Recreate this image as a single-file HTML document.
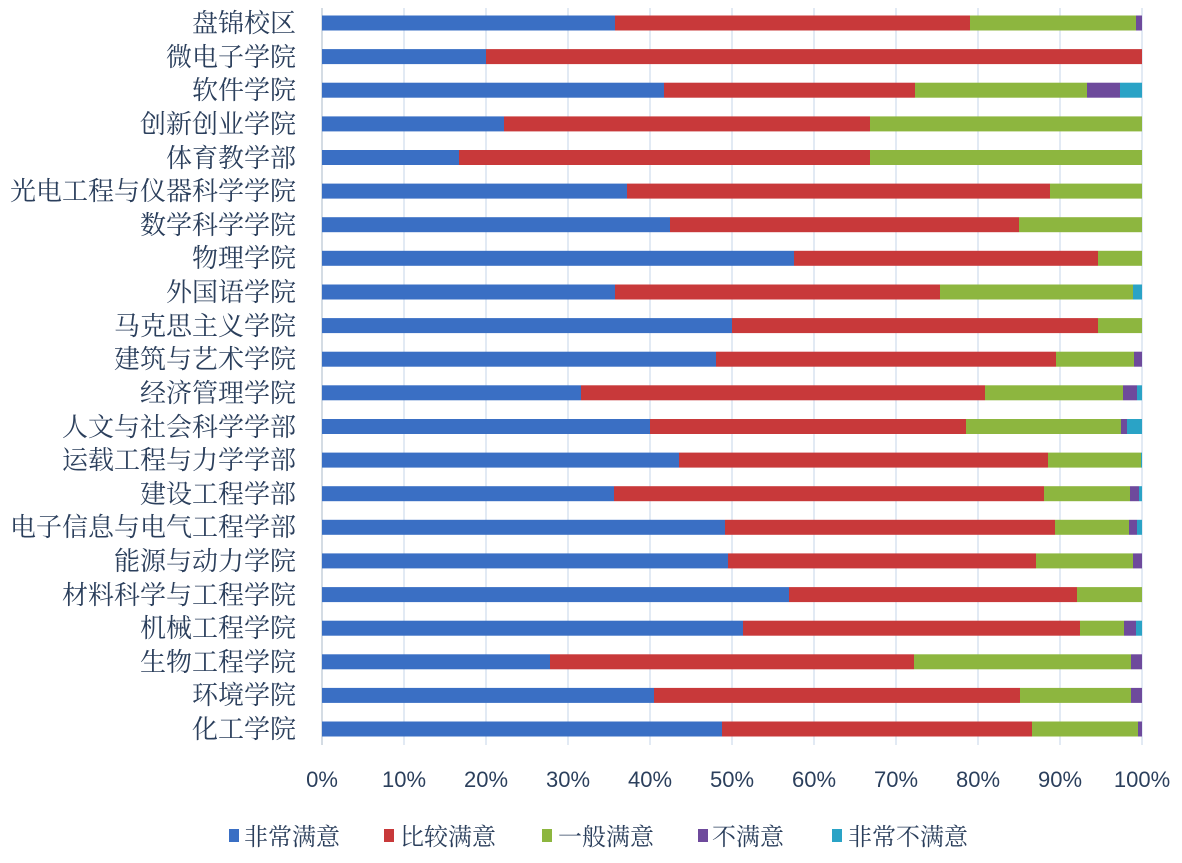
<!DOCTYPE html>
<html><head><meta charset="utf-8"><style>
body{margin:0;background:#fff}
svg text{font-family:"Liberation Serif","Noto Serif CJK SC","Noto Sans CJK SC",serif;fill:#2b3f5c}
</style></head><body>
<svg width="1182" height="858" viewBox="0 0 1182 858" xmlns="http://www.w3.org/2000/svg">
<g stroke="#cfdcec" stroke-width="1.2">
<line x1="404" y1="8" x2="404" y2="745"/><line x1="486" y1="8" x2="486" y2="745"/><line x1="568" y1="8" x2="568" y2="745"/><line x1="650" y1="8" x2="650" y2="745"/><line x1="732" y1="8" x2="732" y2="745"/><line x1="814" y1="8" x2="814" y2="745"/><line x1="896" y1="8" x2="896" y2="745"/><line x1="978" y1="8" x2="978" y2="745"/><line x1="1060" y1="8" x2="1060" y2="745"/><line x1="1142" y1="8" x2="1142" y2="745"/>
</g>
<line x1="322" y1="8" x2="322" y2="745" stroke="#b8c4d2" stroke-width="1.2"/>
<g font-size="26" text-anchor="end">
<text x="296" y="32">盘锦校区</text>
<text x="296" y="66">微电子学院</text>
<text x="296" y="99">软件学院</text>
<text x="296" y="133">创新创业学院</text>
<text x="296" y="167">体育教学部</text>
<text x="296" y="200">光电工程与仪器科学学院</text>
<text x="296" y="234">数学科学学院</text>
<text x="296" y="267">物理学院</text>
<text x="296" y="301">外国语学院</text>
<text x="296" y="335">马克思主义学院</text>
<text x="296" y="368">建筑与艺术学院</text>
<text x="296" y="402">经济管理学院</text>
<text x="296" y="436">人文与社会科学学部</text>
<text x="296" y="469">运载工程与力学学部</text>
<text x="296" y="503">建设工程学部</text>
<text x="296" y="536">电子信息与电气工程学部</text>
<text x="296" y="570">能源与动力学院</text>
<text x="296" y="604">材料科学与工程学院</text>
<text x="296" y="637">机械工程学院</text>
<text x="296" y="671">生物工程学院</text>
<text x="296" y="704">环境学院</text>
<text x="296" y="738">化工学院</text>
</g>
<g>
<g fill="#3a6fc4">
<rect x="322" y="15.5" width="293" height="15"/>
<rect x="322" y="49.1" width="164" height="15"/>
<rect x="322" y="82.7" width="342" height="15"/>
<rect x="322" y="116.4" width="182" height="15"/>
<rect x="322" y="150" width="137" height="15"/>
<rect x="322" y="183.6" width="305" height="15"/>
<rect x="322" y="217.2" width="348" height="15"/>
<rect x="322" y="250.8" width="472" height="15"/>
<rect x="322" y="284.5" width="293" height="15"/>
<rect x="322" y="318.1" width="410" height="15"/>
<rect x="322" y="351.7" width="394" height="15"/>
<rect x="322" y="385.3" width="259" height="15"/>
<rect x="322" y="419" width="328" height="15"/>
<rect x="322" y="452.6" width="357" height="15"/>
<rect x="322" y="486.2" width="292" height="15"/>
<rect x="322" y="519.8" width="403" height="15"/>
<rect x="322" y="553.4" width="406" height="15"/>
<rect x="322" y="587.1" width="467" height="15"/>
<rect x="322" y="620.7" width="421" height="15"/>
<rect x="322" y="654.3" width="228" height="15"/>
<rect x="322" y="687.9" width="332" height="15"/>
<rect x="322" y="721.5" width="400" height="15"/>
</g>
<g fill="#c8393a">
<rect x="615" y="15.5" width="355" height="15"/>
<rect x="486" y="49.1" width="656" height="15"/>
<rect x="664" y="82.7" width="251" height="15"/>
<rect x="504" y="116.4" width="366" height="15"/>
<rect x="459" y="150" width="411" height="15"/>
<rect x="627" y="183.6" width="423" height="15"/>
<rect x="670" y="217.2" width="349" height="15"/>
<rect x="794" y="250.8" width="304" height="15"/>
<rect x="615" y="284.5" width="325" height="15"/>
<rect x="732" y="318.1" width="366" height="15"/>
<rect x="716" y="351.7" width="340" height="15"/>
<rect x="581" y="385.3" width="404" height="15"/>
<rect x="650" y="419" width="316" height="15"/>
<rect x="679" y="452.6" width="369" height="15"/>
<rect x="614" y="486.2" width="430" height="15"/>
<rect x="725" y="519.8" width="330" height="15"/>
<rect x="728" y="553.4" width="308" height="15"/>
<rect x="789" y="587.1" width="288" height="15"/>
<rect x="743" y="620.7" width="337" height="15"/>
<rect x="550" y="654.3" width="364" height="15"/>
<rect x="654" y="687.9" width="366" height="15"/>
<rect x="722" y="721.5" width="310" height="15"/>
</g>
<g fill="#8db63f">
<rect x="970" y="15.5" width="166" height="15"/>
<rect x="915" y="82.7" width="172" height="15"/>
<rect x="870" y="116.4" width="272" height="15"/>
<rect x="870" y="150" width="272" height="15"/>
<rect x="1050" y="183.6" width="92" height="15"/>
<rect x="1019" y="217.2" width="123" height="15"/>
<rect x="1098" y="250.8" width="44" height="15"/>
<rect x="940" y="284.5" width="193" height="15"/>
<rect x="1098" y="318.1" width="44" height="15"/>
<rect x="1056" y="351.7" width="78" height="15"/>
<rect x="985" y="385.3" width="138" height="15"/>
<rect x="966" y="419" width="155" height="15"/>
<rect x="1048" y="452.6" width="93" height="15"/>
<rect x="1044" y="486.2" width="86" height="15"/>
<rect x="1055" y="519.8" width="74" height="15"/>
<rect x="1036" y="553.4" width="97" height="15"/>
<rect x="1077" y="587.1" width="65" height="15"/>
<rect x="1080" y="620.7" width="44" height="15"/>
<rect x="914" y="654.3" width="217" height="15"/>
<rect x="1020" y="687.9" width="111" height="15"/>
<rect x="1032" y="721.5" width="106" height="15"/>
</g>
<g fill="#6e4a9c">
<rect x="1136" y="15.5" width="6" height="15"/>
<rect x="1087" y="82.7" width="33" height="15"/>
<rect x="1134" y="351.7" width="8" height="15"/>
<rect x="1123" y="385.3" width="14" height="15"/>
<rect x="1121" y="419" width="6" height="15"/>
<rect x="1130" y="486.2" width="9" height="15"/>
<rect x="1129" y="519.8" width="8" height="15"/>
<rect x="1133" y="553.4" width="9" height="15"/>
<rect x="1124" y="620.7" width="12" height="15"/>
<rect x="1131" y="654.3" width="11" height="15"/>
<rect x="1131" y="687.9" width="11" height="15"/>
<rect x="1138" y="721.5" width="4" height="15"/>
</g>
<g fill="#2aa3c6">
<rect x="1120" y="82.7" width="22" height="15"/>
<rect x="1133" y="284.5" width="9" height="15"/>
<rect x="1137" y="385.3" width="5" height="15"/>
<rect x="1127" y="419" width="15" height="15"/>
<rect x="1141" y="452.6" width="1" height="15"/>
<rect x="1139" y="486.2" width="3" height="15"/>
<rect x="1137" y="519.8" width="5" height="15"/>
<rect x="1136" y="620.7" width="6" height="15"/>
</g>
</g>
<g font-size="22" text-anchor="middle">
<text x="322" y="787" style="font-family:'Liberation Sans Narrow','Liberation Sans',sans-serif">0%</text>
<text x="404" y="787" style="font-family:'Liberation Sans Narrow','Liberation Sans',sans-serif">10%</text>
<text x="486" y="787" style="font-family:'Liberation Sans Narrow','Liberation Sans',sans-serif">20%</text>
<text x="568" y="787" style="font-family:'Liberation Sans Narrow','Liberation Sans',sans-serif">30%</text>
<text x="650" y="787" style="font-family:'Liberation Sans Narrow','Liberation Sans',sans-serif">40%</text>
<text x="732" y="787" style="font-family:'Liberation Sans Narrow','Liberation Sans',sans-serif">50%</text>
<text x="814" y="787" style="font-family:'Liberation Sans Narrow','Liberation Sans',sans-serif">60%</text>
<text x="896" y="787" style="font-family:'Liberation Sans Narrow','Liberation Sans',sans-serif">70%</text>
<text x="978" y="787" style="font-family:'Liberation Sans Narrow','Liberation Sans',sans-serif">80%</text>
<text x="1060" y="787" style="font-family:'Liberation Sans Narrow','Liberation Sans',sans-serif">90%</text>
<text x="1142" y="787" style="font-family:'Liberation Sans Narrow','Liberation Sans',sans-serif">100%</text>
</g>
<g font-size="24">
<rect x="229" y="829" width="10" height="13" fill="#3a6fc4"/><text x="244" y="845">非常满意</text>
<rect x="384" y="829" width="10" height="13" fill="#c8393a"/><text x="400" y="845">比较满意</text>
<rect x="542" y="829" width="10" height="13" fill="#8db63f"/><text x="558" y="845">一般满意</text>
<rect x="698" y="829" width="10" height="13" fill="#6e4a9c"/><text x="712" y="845">不满意</text>
<rect x="832" y="829" width="10" height="13" fill="#2aa3c6"/><text x="848" y="845">非常不满意</text>
</g>
</svg>
</body></html>
